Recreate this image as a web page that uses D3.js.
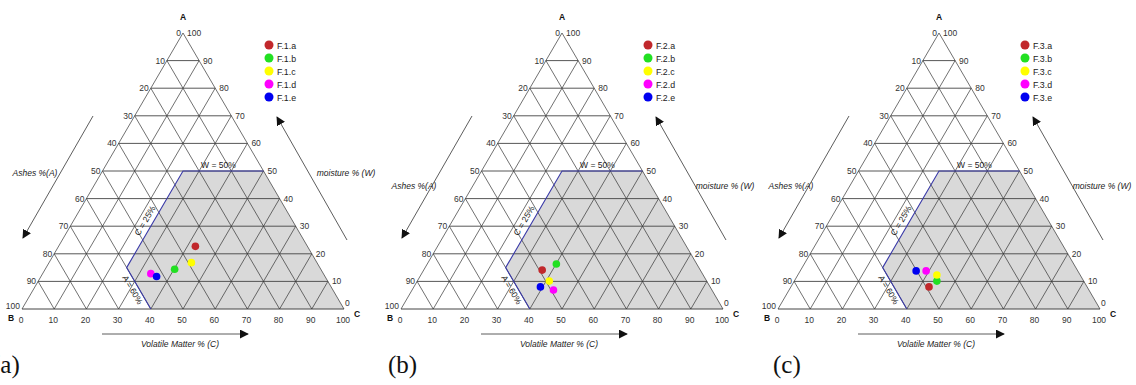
<!DOCTYPE html>
<html>
<head>
<meta charset="utf-8">
<script src="https://cdn.jsdelivr.net/npm/d3@7/dist/d3.min.js"></script>
<style>
  body { margin: 0; background: #fff; }
  text { font-family: "Liberation Sans", Arial, sans-serif; }
  text.tag { font-family: "Liberation Serif", "DejaVu Serif", serif; }
</style>
</head>
<body>
<div class="container"></div>
<script>
// ---- data ----
const gridSteps = [0, 10, 20, 30, 40, 50, 60, 70, 80, 90, 100];
const panelTags = ["(a)", "(b)", "(c)"];
const seriesNames = [
  ["F.1.a", "F.1.b", "F.1.c", "F.1.d", "F.1.e"],
  ["F.2.a", "F.2.b", "F.2.c", "F.2.d", "F.2.e"],
  ["F.3.a", "F.3.b", "F.3.c", "F.3.d", "F.3.e"]
];
const seriesColors = ["#c1282c", "#22e022", "#ffff00", "#ff00ff", "#0000f0"];
// ternary values (A + C + W = 100)
const ashes    = [[34.8, 45.4, 39.0, 53.6, 52.3], [49.1, 43.6, 48.9, 49.2, 52.7], [49.1, 45.6, 44.5, 47.1, 50.2]];
const volatile = [[42.5, 40.2, 44.2, 33.6, 35.9], [36.8, 40.1, 41.0, 43.9, 39.3], [42.9, 44.3, 43.2, 39.1, 36.0]];
const moisture = [[22.7, 14.4, 16.8, 12.8, 11.8], [14.1, 16.3, 10.1,  6.9,  8.0], [ 8.0, 10.1, 12.3, 13.8, 13.8]];
// zone limits
const limitW = 50, limitC = 25, limitA = 60;

// ---- layout ----
const width = 1136, height = 385;
const panelLeft = [22, 401, 778];
const tagLeft = [-8, 388, 773];
const sideTitleY = [176, 189, 189];
const side = 322;
const baseY = 309, topY = 33;

const svg = d3.select(".container").append("svg")
  .attr("width", width).attr("height", height);

svg.append("defs").append("marker")
  .attr("id", "head")
  .attr("viewBox", "0 0 10 10")
  .attr("refX", 9).attr("refY", 5)
  .attr("markerWidth", 9).attr("markerHeight", 9)
  .attr("markerUnits", "userSpaceOnUse")
  .attr("orient", "auto")
  .append("path").attr("d", "M0,0 L10,5 L0,10 Z").attr("fill", "#111");

const xScale = d3.scaleLinear([0, 100], [0, side]);
const yScale = d3.scaleLinear([0, 100], [baseY, topY]);
// C along the base, W up the height
const px = (c, w) => xScale(c + w / 2);
const py = (c, w) => yScale(w);
const line = d3.line().x(d => px(d[0], d[1])).y(d => py(d[0], d[1]));

panelLeft.forEach((left, p) => {
  const g = svg.append("g").attr("transform", `translate(${left},0)`);

  // shaded zone
  const wCorner = 100 - limitA - limitC;
  const zone = [
    [100 - limitA, 0],
    [limitC, wCorner],
    [limitC, limitW],
    [100 - limitW, limitW],
    [100, 0]
  ];
  g.append("path").attr("d", line(zone) + "Z").attr("fill", "#d9d9d9");

  // grid
  const grid = g.append("g").attr("fill", "none");
  gridSteps.forEach(k => {
    grid.append("path").attr("d", line([[0, k], [100 - k, k]]))
      .attr("stroke", "#444").attr("stroke-width", k === 0 ? 1 : 0.9);
    grid.append("path").attr("d", line([[k, 0], [k, 100 - k]]))
      .attr("stroke", "#333").attr("stroke-width", 0.7);
    grid.append("path").attr("d", line([[100 - k, 0], [0, 100 - k]]))
      .attr("stroke", "#333").attr("stroke-width", 0.7);
  });

  // zone boundary
  g.append("path")
    .attr("d", line([[100 - limitA, 0], [limitC, wCorner], [limitC, limitW], [100 - limitW, limitW]]))
    .attr("fill", "none").attr("stroke", "#3a3aa8").attr("stroke-width", 1.1);

  // zone labels
  g.append("text").attr("x", px(limitC + 11, limitW)).attr("y", py(0, limitW) - 3)
    .attr("font-size", 8.5).attr("fill", "#222").attr("text-anchor", "middle")
    .text(`W = ${limitW}%`);
  const wc = 32;
  g.append("text")
    .attr("transform", `translate(${px(limitC, wc) - 9},${py(0, wc)}) rotate(-59.7)`)
    .attr("font-size", 8.5).attr("fill", "#222").attr("text-anchor", "middle").attr("dy", "0.35em")
    .text(`C = ${limitC}%`);
  const wa = 7;
  g.append("text")
    .attr("transform", `translate(${px(100 - limitA - wa, wa) - 7},${py(0, wa)}) rotate(59.7)`)
    .attr("font-size", 8.5).attr("fill", "#222").attr("text-anchor", "middle").attr("dy", "0.35em")
    .text(`A = ${limitA}%`);

  // tick labels
  const ticks = g.append("g").attr("font-size", 8.5).attr("fill", "#333");
  gridSteps.forEach(k => {
    ticks.append("text").attr("x", px(0, k) - 2).attr("y", py(0, k) + (k === 0 ? 0 : 3))
      .attr("text-anchor", "end").text(100 - k);
    ticks.append("text").attr("x", px(100 - k, k) + (k === 0 ? 1 : 4)).attr("y", py(0, k) + (k === 0 ? -3 : 3))
      .attr("text-anchor", "start").text(k);
    ticks.append("text").attr("x", px(k, 0) - 1).attr("y", baseY + 14)
      .attr("text-anchor", "middle").text(k);
  });

  // vertices
  const corners = g.append("g").attr("font-size", 8.5).attr("font-weight", "bold").attr("fill", "#111");
  corners.append("text").attr("x", px(0, 100)).attr("y", topY - 13).attr("text-anchor", "middle").text("A");
  corners.append("text").attr("x", -14).attr("y", baseY + 12).text("B");
  corners.append("text").attr("x", side + 10).attr("y", baseY + 8).text("C");

  // axis arrows
  const arrows = g.append("g").attr("stroke", "#333").attr("stroke-width", 0.8);
  arrows.append("line").attr("x1", 71).attr("y1", -193 + baseY).attr("x2", 1).attr("y2", -71 + baseY)
    .attr("marker-end", "url(#head)");
  arrows.append("line").attr("x1", side + 3).attr("y1", -69 + baseY).attr("x2", side - 67).attr("y2", -192 + baseY)
    .attr("marker-end", "url(#head)");
  arrows.append("line").attr("x1", 80).attr("y1", baseY + 25).attr("x2", 226).attr("y2", baseY + 25)
    .attr("marker-end", "url(#head)");

  const axisText = g.append("g").attr("font-size", 8.5).attr("font-style", "italic").attr("fill", "#222");
  axisText.append("text").attr("x", 13).attr("y", sideTitleY[p]).attr("text-anchor", "middle").text("Ashes %(A)");
  axisText.append("text").attr("x", side + 2).attr("y", sideTitleY[p]).attr("text-anchor", "middle").text("moisture % (W)");
  axisText.append("text").attr("x", 158).attr("y", baseY + 38).attr("text-anchor", "middle").text("Volatile Matter % (C)");

  // points
  g.append("g").selectAll("circle")
    .data(d3.range(seriesNames[p].length)).enter().append("circle")
    .attr("cx", i => px(volatile[p][i], moisture[p][i]))
    .attr("cy", i => py(volatile[p][i], moisture[p][i]))
    .attr("r", 3.8)
    .attr("fill", i => seriesColors[i]);

  // legend
  const legend = g.append("g").attr("transform", "translate(247,45)");
  seriesNames[p].forEach((name, i) => {
    legend.append("circle").attr("cx", 0).attr("cy", i * 13).attr("r", 4.5).attr("fill", seriesColors[i]);
    legend.append("text").attr("x", 8).attr("y", i * 13 + 3.5).attr("font-size", 8.8).attr("fill", "#222").text(name);
  });

  // panel tag
  svg.append("text").attr("class", "tag").attr("x", tagLeft[p]).attr("y", 373)
    .attr("font-size", 25).attr("fill", "#111").text(panelTags[p]);
});
</script>
</body>
</html>
